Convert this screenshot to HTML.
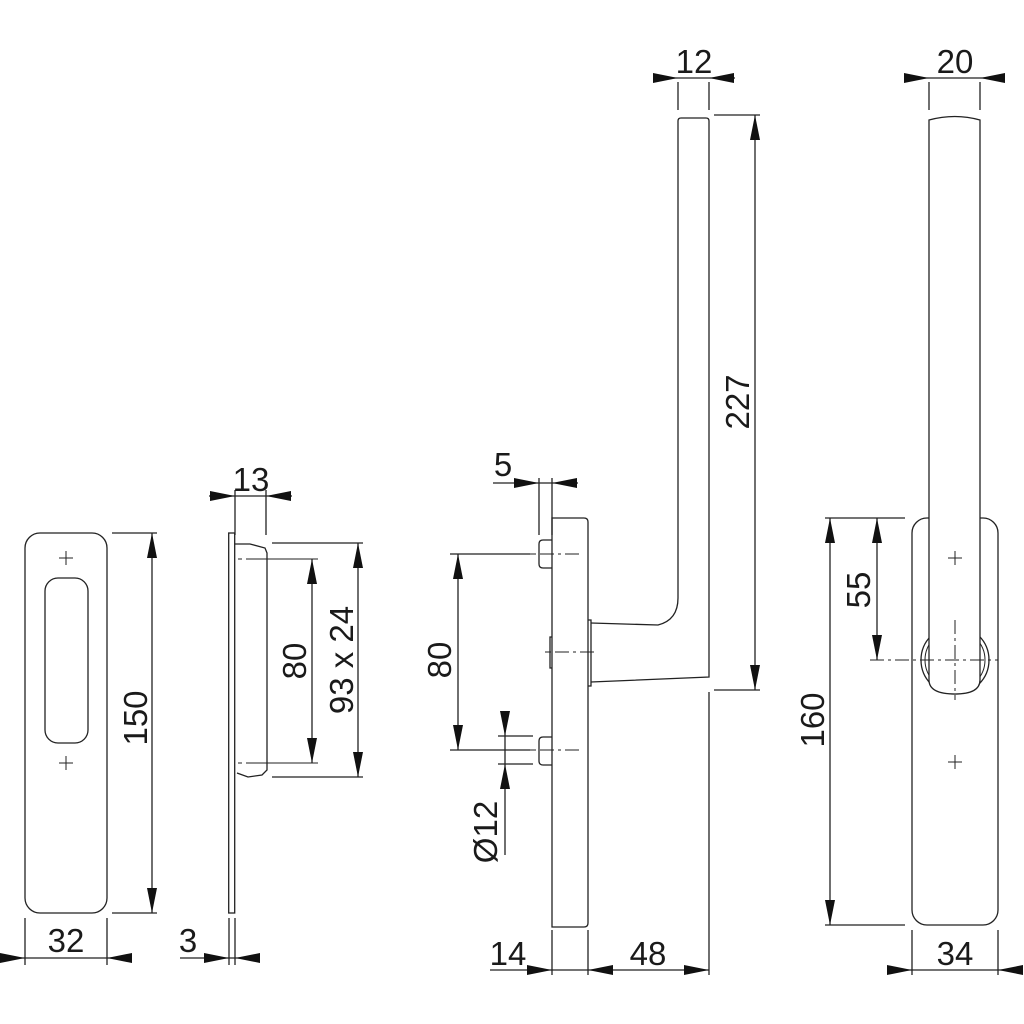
<!DOCTYPE html>
<html><head><style>html,body{margin:0;padding:0;background:#fff}svg{display:block}text{font-family:"Liberation Sans",sans-serif;font-size:33px;fill:#1a1a1a}</style></head><body>
<svg width="1024" height="1024" viewBox="0 0 1024 1024" xmlns="http://www.w3.org/2000/svg">
<defs>
<path id="ar" d="M0,0 L-25,-5 L-25,5 Z" fill="#111"/>
</defs>
<g fill="none" stroke="#222" stroke-width="1.3">
<!-- left plate -->
<rect x="25" y="533" width="82" height="380" rx="15"/>
<rect x="45" y="578" width="43" height="165" rx="13"/>
<path d="M59,558h14M66,551v14M59,763h14M66,756v14" stroke-width="1"/>
<path d="M112,533h45M112,913h45M152,533v380"/>
<path d="M25,918v47M107,918v47M0,958h132"/>
<!-- side view -->
<rect x="228.7" y="533" width="6" height="380"/>
<path d="M235,544L250,544L265,548L267,553L267,770L262,775L248,777L237,773"/>
<path d="M238,559h4M246,559h72M238,763h4M246,763h72" stroke-width="1"/>
<path d="M272,543h91M272,777h91M358,543v234M312,559v204"/>
<path d="M235,490v45M266,490v45M209,496h83"/>
<path d="M229,918v47M235,918v47M180,958h80"/>
<!-- handle side -->
<path d="M552,518h32q4,0 4,4v401q0,4-4,4h-32Z"/>
<path d="M552,540h-9q-4,0-4,4v20q0,4,4,4h9M552,737h-9q-4,0-4,4v20q0,4,4,4h9"/>
<path d="M588,620h3v66h-3M552,637h-2v31h2"/>
<path d="M591,623L658,625Q678,620 678,598V121q0-3 3-3h25q3,0 3,3V677L591,682"/>
<path d="M709,692V975M714,690h46M714,115h46M755,115v575"/>
<path d="M678,82v28M709,82v28M653,78h82"/>
<path d="M539,478v57M552,478v57M493,483h85"/>
<path d="M530,554h-80M530,750h-80M458,554v196"/>
<path d="M498,736h35M498,764h35M505,718v137"/>
<path d="M552,930v45M588,930v45M490,970h219"/>
<path d="M530,554h6M540,554h42M530,750h6M540,750h42M545,652h6M555,652h40" stroke-width="1" stroke-dasharray="14,4,3,4"/>
<!-- front view -->
<rect x="912" y="518" width="86" height="407" rx="15"/>
<circle cx="955" cy="660" r="34"/>
<circle cx="955" cy="660" r="30" stroke-width="1"/>
<path d="M929,680V120Q955,113 980,120V680Q980,694 955,694Q929,694 929,680Z" fill="#fff"/>
<path d="M948,558h14M955,551v14M948,762h14M955,755v14" stroke-width="1"/>
<path d="M955,620v80M870,660h128" stroke-width="1" stroke-dasharray="14,4,3,4"/>
<path d="M825,518h80M825,925h80M830,518v407M877,518v142"/>
<path d="M929,82v28M980,82v28M904,78h101"/>
<path d="M912,930v45M998,930v45M887,970h136"/>
</g>
<g>
<use href="#ar" transform="translate(152,533) rotate(-90)"/><use href="#ar" transform="translate(152,913) rotate(90)"/>
<use href="#ar" transform="translate(25,958)"/><use href="#ar" transform="translate(107,958) rotate(180)"/>
<use href="#ar" transform="translate(312,559) rotate(-90)"/><use href="#ar" transform="translate(312,763) rotate(90)"/>
<use href="#ar" transform="translate(358,543) rotate(-90)"/><use href="#ar" transform="translate(358,777) rotate(90)"/>
<use href="#ar" transform="translate(235,496)"/><use href="#ar" transform="translate(266,496) rotate(180)"/>
<use href="#ar" transform="translate(229,958)"/><use href="#ar" transform="translate(235,958) rotate(180)"/>
<use href="#ar" transform="translate(755,115) rotate(-90)"/><use href="#ar" transform="translate(755,690) rotate(90)"/>
<use href="#ar" transform="translate(678,78)"/><use href="#ar" transform="translate(709,78) rotate(180)"/>
<use href="#ar" transform="translate(539,483)"/><use href="#ar" transform="translate(552,483) rotate(180)"/>
<use href="#ar" transform="translate(458,554) rotate(-90)"/><use href="#ar" transform="translate(458,750) rotate(90)"/>
<use href="#ar" transform="translate(505,736) rotate(90)"/><use href="#ar" transform="translate(505,764) rotate(-90)"/>
<use href="#ar" transform="translate(552,970)"/><use href="#ar" transform="translate(588,970) rotate(180)"/><use href="#ar" transform="translate(709,970)"/>
<use href="#ar" transform="translate(830,518) rotate(-90)"/><use href="#ar" transform="translate(830,925) rotate(90)"/>
<use href="#ar" transform="translate(877,518) rotate(-90)"/><use href="#ar" transform="translate(877,660) rotate(90)"/>
<use href="#ar" transform="translate(929,78)"/><use href="#ar" transform="translate(980,78) rotate(180)"/>
<use href="#ar" transform="translate(912,970)"/><use href="#ar" transform="translate(998,970) rotate(180)"/>
</g>
<g text-anchor="middle">
<text x="66" y="952">32</text>
<text x="188" y="952">3</text>
<text x="251" y="491">13</text>
<text x="508" y="965">14</text>
<text x="648" y="965">48</text>
<text x="503" y="476">5</text>
<text x="694" y="73">12</text>
<text x="955" y="73">20</text>
<text x="955" y="965">34</text>
<text transform="translate(147,718) rotate(-90)">150</text>
<text transform="translate(306,661) rotate(-90)">80</text>
<text transform="translate(353,660) rotate(-90)">93 x 24</text>
<text transform="translate(451,660) rotate(-90)">80</text>
<text transform="translate(497,832) rotate(-90)">Ø12</text>
<text transform="translate(749,402) rotate(-90)">227</text>
<text transform="translate(824,720) rotate(-90)">160</text>
<text transform="translate(870,590) rotate(-90)">55</text>
</g>
</svg>
</body></html>
